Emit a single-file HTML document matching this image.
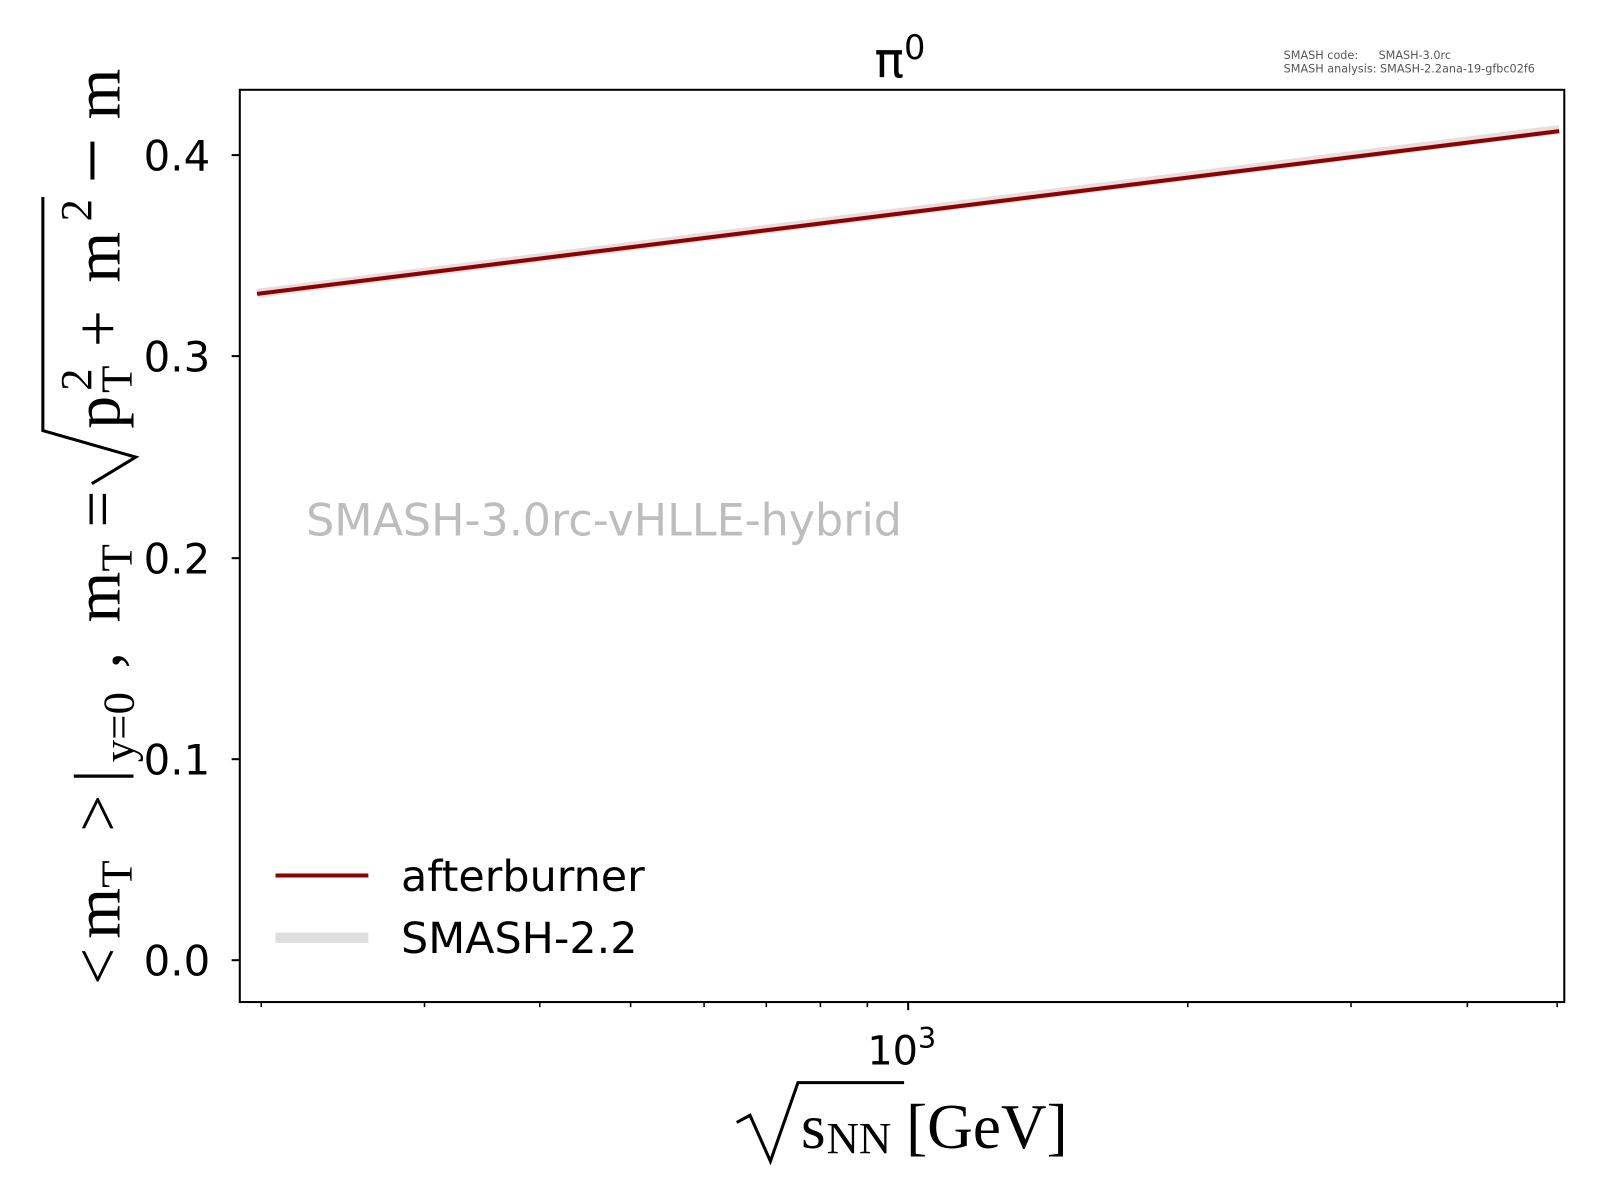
<!DOCTYPE html>
<html><head><meta charset="utf-8"><style>html,body{margin:0;padding:0;background:#fff}svg{display:block}</style></head>
<body>
<svg width="1600" height="1200" viewBox="0 0 1568 1176" preserveAspectRatio="none" xmlns="http://www.w3.org/2000/svg" font-family="'DejaVu Sans','Liberation Sans',sans-serif">
<rect width="1568" height="1176" fill="#fff"/>
<line x1="252" y1="287.5" x2="1528" y2="127" stroke="#e6dede" stroke-width="9"/>
<line x1="252" y1="288" x2="1528" y2="128.5" stroke="#8b0000" stroke-width="4"/>
<rect x="235" y="88" width="1298" height="894" fill="none" stroke="#000" stroke-width="2"/>
<g stroke="#000" stroke-width="2">
<line x1="227" y1="941" x2="235" y2="941"/><line x1="227" y1="744" x2="235" y2="744"/>
<line x1="227" y1="547" x2="235" y2="547"/><line x1="227" y1="349" x2="235" y2="349"/>
<line x1="227" y1="152" x2="235" y2="152"/>
</g>
<g font-size="41" text-anchor="end" fill="#000">
<text x="206" y="956">0.0</text><text x="206" y="759">0.1</text><text x="206" y="562">0.2</text>
<text x="206" y="364">0.3</text><text x="206" y="167">0.4</text>
</g>
<g stroke="#000" stroke-width="1.5">
<line x1="256" y1="982" x2="256" y2="987"/><line x1="416" y1="982" x2="416" y2="987"/>
<line x1="529" y1="982" x2="529" y2="987"/><line x1="618" y1="982" x2="618" y2="987"/>
<line x1="690" y1="982" x2="690" y2="987"/><line x1="751" y1="982" x2="751" y2="987"/>
<line x1="804" y1="982" x2="804" y2="987"/><line x1="850" y1="982" x2="850" y2="987"/>
<line x1="1164" y1="982" x2="1164" y2="987"/><line x1="1324" y1="982" x2="1324" y2="987"/>
<line x1="1438" y1="982" x2="1438" y2="987"/><line x1="1526" y1="982" x2="1526" y2="987"/>
<line x1="890" y1="982" x2="890" y2="990" stroke-width="2"/>
</g>
<text x="850" y="1043" font-size="39">10<tspan font-size="28" dy="-16">3</tspan></text>
<path d="M722,1100 L735,1093 L755,1138 L782,1061 L886,1061" fill="none" stroke="#000" stroke-width="3"/>
<text font-family="'Liberation Serif',serif" font-size="62" y="1125"><tspan x="785">s</tspan><tspan x="810" font-size="44" dy="5">NN</tspan><tspan x="888" dy="-5">[GeV]</tspan></text>
<g transform="translate(117,965) rotate(-90)" font-family="'Liberation Serif',serif" font-size="64" fill="#000">
<text y="0"><tspan x="0">&lt;</tspan><tspan x="45">m</tspan><tspan x="95" font-size="44" dy="12">T</tspan><tspan x="150" dy="-12">&gt;</tspan><tspan x="198">|</tspan><tspan x="218" font-size="44" dy="14">y=0</tspan><tspan x="310" dy="-14">,</tspan><tspan x="355">m</tspan><tspan x="405" font-size="44" dy="12">T</tspan><tspan x="448" dy="-12">=</tspan><tspan x="545">p</tspan><tspan x="580" font-size="44" dy="12">T</tspan><tspan x="582" font-size="44" dy="-40">2</tspan><tspan x="625" dy="28">+</tspan><tspan x="688">m</tspan><tspan x="748" font-size="44" dy="-28">2</tspan><tspan x="785" dy="28" font-size="80">−</tspan><tspan x="848">m</tspan></text>
</g>
<path d="M90,474 L133,448 L42,422 L42,193" fill="none" stroke="#000" stroke-width="3"/>
<text x="857" y="76" font-size="48">π<tspan font-size="33" dy="-18">0</tspan></text>
<g font-size="11" fill="#555"><text x="1258" y="58">SMASH code:</text><text x="1351" y="58">SMASH-3.0rc</text><text x="1258" y="71">SMASH analysis: SMASH-2.2ana-19-gfbc02f6</text></g>
<text x="300" y="525" font-size="43.5" fill="#bdbdbd">SMASH-3.0rc-vHLLE-hybrid</text>
<line x1="270" y1="858" x2="361" y2="858" stroke="#8b0000" stroke-width="4"/>
<line x1="270" y1="919" x2="361" y2="919" stroke="#dedede" stroke-width="10"/>
<g font-size="42"><text x="393" y="873">afterburner</text><text x="393" y="934">SMASH-2.2</text></g>
</svg>
</body></html>
